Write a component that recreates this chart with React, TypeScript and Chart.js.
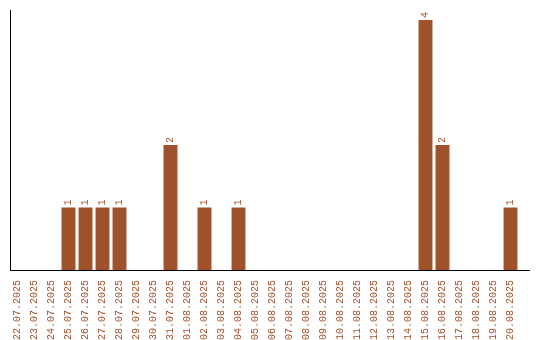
import React, { useEffect, useRef } from "react";
import { Chart, registerables } from "chart.js";

Chart.register(...registerables);

const categories = [
  "22.07.2025", "23.07.2025", "24.07.2025", "25.07.2025", "26.07.2025",
  "27.07.2025", "28.07.2025", "29.07.2025", "30.07.2025", "31.07.2025",
  "01.08.2025", "02.08.2025", "03.08.2025", "04.08.2025", "05.08.2025",
  "06.08.2025", "07.08.2025", "08.08.2025", "09.08.2025", "10.08.2025",
  "11.08.2025", "12.08.2025", "13.08.2025", "14.08.2025", "15.08.2025",
  "16.08.2025", "17.08.2025", "18.08.2025", "19.08.2025", "20.08.2025",
];
const counts = [
  0, 0, 0, 1, 1,
  1, 1, 0, 0, 2,
  0, 1, 0, 1, 0,
  0, 0, 0, 0, 0,
  0, 0, 0, 0, 4,
  2, 0, 0, 0, 1,
];

const BROWN = "#a0522d";
const FONT = "Liberation Mono";

const axesPlugin = {
  id: "axesLines",
  afterDraw(chart: any) {
    const { ctx, chartArea } = chart;
    ctx.save();
    ctx.strokeStyle = "#000";
    ctx.lineWidth = 1;
    ctx.beginPath();
    ctx.moveTo(10.5, chartArea.top);
    ctx.lineTo(10.5, chartArea.bottom + 0.5);
    ctx.moveTo(10, chartArea.bottom + 0.5);
    ctx.lineTo(530, chartArea.bottom + 0.5);
    ctx.stroke();
    ctx.restore();
  },
};

const valueLabels = {
  id: "valueLabels",
  afterDatasetsDraw(chart: any) {
    const { ctx } = chart;
    const meta = chart.getDatasetMeta(0);
    ctx.save();
    ctx.fillStyle = BROWN;
    ctx.font = `10px "${FONT}"`;
    ctx.textAlign = "left";
    ctx.textBaseline = "middle";
    meta.data.forEach((bar: any, i: number) => {
      const v = counts[i];
      if (!v) return;
      ctx.save();
      ctx.translate(bar.x, bar.y - 2);
      ctx.rotate(-Math.PI / 2);
      ctx.fillText(String(v), 0, 0);
      ctx.restore();
    });
    ctx.restore();
  },
};

export default function App() {
  const ref = useRef<HTMLCanvasElement>(null);
  useEffect(() => {
    const chart = new Chart(ref.current!, {
      type: "bar",
      data: {
        labels: categories,
        datasets: [
          {
            data: counts,
            backgroundColor: BROWN,
            borderWidth: 0,
            barPercentage: 0.82,
            categoryPercentage: 1,
          },
        ],
      },
      options: {
        animation: false,
        responsive: true,
        maintainAspectRatio: false,
        layout: { padding: { left: 9, right: 21, top: 10, bottom: 0 } },
        plugins: { legend: { display: false }, tooltip: { enabled: false } },
        scales: {
          x: {
            grid: { display: false },
            border: { display: false },
            ticks: {
              color: BROWN,
              font: { family: FONT, size: 10 },
              minRotation: 90,
              maxRotation: 90,
              autoSkip: false,
              padding: 2,
            },
            afterFit(scale: any) {
              scale.height = 70;
            },
          },
          y: {
            display: false,
            min: 0,
            max: 4.16,
          },
        },
      },
      plugins: [axesPlugin, valueLabels],
    });
    return () => chart.destroy();
  }, []);
  return (
    <div style={{ position: "absolute", left: 0, top: 0, width: 540, height: 340 }}>
      <canvas ref={ref} />
    </div>
  );
}
